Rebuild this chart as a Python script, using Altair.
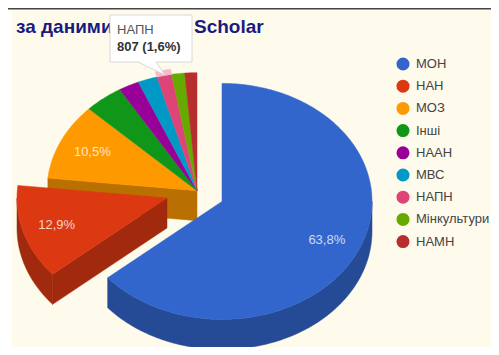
import math
import altair as alt
import pandas as pd

names = ["МОН", "НАН", "МОЗ", "Інші", "НААН", "МВС", "НАПН", "Мінкультури", "НАМН"]
shares = [63.8, 12.9, 10.5, 4.2, 2.2, 2.1, 1.6, 1.4, 1.3]
colors = ["#3366CC", "#DC3912", "#FF9900", "#109618", "#990099", "#0099C6", "#DD4477", "#66AA00", "#B82E2E"]
walls = ["#254A96", "#A1290D", "#BA7000", "#0C6E12", "#700070", "#007091", "#A13257", "#4A7C00", "#862222"]
label_texts = {0: "63,8%", 1: "12,9%", 2: "10,5%"}
title_left = "за даними"
title_right = "Scholar"
tip_name = "НАПН"
tip_value = "807 (1,6%)"

RX, RY, DEPTH = 150, 118, 30
MAIN = (197, 190.7)
CENTERS = {0: (222, 201.4), 1: (167, 198)}
CREAM = "#FEFAEC"


def pt(c, deg, k=1.0):
    a = math.radians(deg)
    return (c[0] + RX * k * math.sin(a), c[1] - RY * k * math.cos(a))


def arc(c, a0, a1, k=1.0):
    n = max(2, int(abs(a1 - a0)) + 2)
    return [pt(c, a0 + (a1 - a0) * i / (n - 1), k) for i in range(n)]


def shift(points):
    return [(x, y + DEPTH) for x, y in points]


def poly(points, fill, stroke=None, sw=0.5):
    df = pd.DataFrame({"x": [p[0] for p in points], "y": [p[1] for p in points], "i": range(len(points))})
    return alt.Chart(df).mark_line(
        interpolate="linear-closed", fill=fill, stroke=stroke or fill, strokeWidth=sw
    ).encode(x=X, y=Y, order="i:Q")


X = alt.X("x:Q", scale=alt.Scale(domain=[8, 491], nice=False, zero=False), axis=None)
Y = alt.Y("y:Q", scale=alt.Scale(domain=[347, 8], nice=False, zero=False), axis=None)

angles = []
acc = 0.0
for s in shares:
    angles.append((acc * 3.6, (acc + s) * 3.6))
    acc += s

layers = []
# background
layers.append(alt.Chart(pd.DataFrame({"x": [12], "x2": [491], "y": [9], "y2": [347]})).mark_rect(color=CREAM).encode(x=X, x2="x2:Q", y=Y, y2="y2:Q"))
layers.append(alt.Chart(pd.DataFrame({"x": [8], "x2": [491], "y": [8.5]})).mark_rule(color="#444444", strokeWidth=2).encode(x=X, x2="x2:Q", y=Y))

# legend carrier, hidden under the pie
carrier = pd.DataFrame({"x": [pt(MAIN, 300, 0.5)[0]] * 9, "y": [pt(MAIN, 300, 0.5)[1]] * 9, "name": names})
layers.append(alt.Chart(carrier).mark_circle(size=1).encode(
    x=X, y=Y,
    color=alt.Color("name:N", scale=alt.Scale(domain=names, range=colors), sort=names, legend=alt.Legend(
        orient="none", legendX=388, legendY=49, title=None, symbolType="circle", symbolSize=170,
        symbolOpacity=1, symbolStrokeWidth=0, labelFont="Liberation Sans", labelFontSize=13, labelColor="#444444",
        rowPadding=8.2, labelOffset=6, symbolOffset=0, padding=0)),
))

# main pie: orange wall and tops
a0, a1 = angles[2]
p = pt(MAIN, a0)
layers.append(poly([MAIN, p, shift([p])[0], shift([MAIN])[0]], walls[2]))
for i in range(2, 9):
    a0, a1 = angles[i]
    layers.append(poly([MAIN] + arc(MAIN, a0, a1), colors[i]))

# highlight of hovered slice
a0, a1 = angles[6]
layers.append(poly(arc(MAIN, a0, a1, 1.0) + arc(MAIN, a1, a0, 1.045), "#F5B9CB"))

# exploded red slice
c = CENTERS[1]
a0, a1 = angles[1]
p = pt(c, a0)
layers.append(poly([c, p, shift([p])[0], shift([c])[0]], walls[1]))
outer = arc(c, a0, 270)
layers.append(poly(outer + shift(outer)[::-1], walls[1]))
layers.append(poly([c] + arc(c, a0, a1), colors[1]))

# exploded blue slice
c = CENTERS[0]
a0, a1 = angles[0]
outer = arc(c, 90, a1)
layers.append(poly(outer + shift(outer)[::-1], walls[0]))
layers.append(poly([c] + arc(c, a0, a1), colors[0]))

# slice labels
rows = []
for i, t in label_texts.items():
    m = sum(angles[i]) / 2
    cc = CENTERS.get(i, MAIN)
    x, y = pt(cc, m, 0.77)
    rows.append({"x": x, "y": y, "t": t})
layers.append(alt.Chart(pd.DataFrame(rows)).mark_text(
    font="Liberation Sans", fontSize=13, color="#FFFFFF", opacity=0.75, align="center", baseline="middle"
).encode(x=X, y=Y, text="t:N"))

# title
layers.append(alt.Chart(pd.DataFrame({"x": [16], "y": [33], "t": [title_left]})).mark_text(
    font="Liberation Sans", fontSize=19, fontWeight="bold", color="#1A1A80", align="left", baseline="alphabetic"
).encode(x=X, y=Y, text="t:N"))
layers.append(alt.Chart(pd.DataFrame({"x": [194], "y": [33], "t": [title_right]})).mark_text(
    font="Liberation Sans", fontSize=19, fontWeight="bold", color="#1A1A80", align="left", baseline="alphabetic"
).encode(x=X, y=Y, text="t:N"))

# tooltip
layers.append(poly([(110, 15), (192, 15), (192, 62), (156, 62), (165, 75), (138, 62), (110, 62)], "#FFFFFF", "#D8D8D8", 1))
layers.append(alt.Chart(pd.DataFrame({"x": [117], "y": [34], "t": [tip_name]})).mark_text(
    font="Liberation Sans", fontSize=13, color="#555555", align="left", baseline="alphabetic"
).encode(x=X, y=Y, text="t:N"))
layers.append(alt.Chart(pd.DataFrame({"x": [117], "y": [51], "t": [tip_value]})).mark_text(
    font="Liberation Sans", fontSize=13, fontWeight="bold", color="#333333", align="left", baseline="alphabetic"
).encode(x=X, y=Y, text="t:N"))

chart = alt.layer(*layers).properties(
    width=483, height=339, padding=0, background="#FFFFFF",
    autosize=alt.AutoSizeParams(type="none"),
).configure_view(stroke=None)

chart.save("out.html", embed_options={"renderer": "svg", "actions": False})
